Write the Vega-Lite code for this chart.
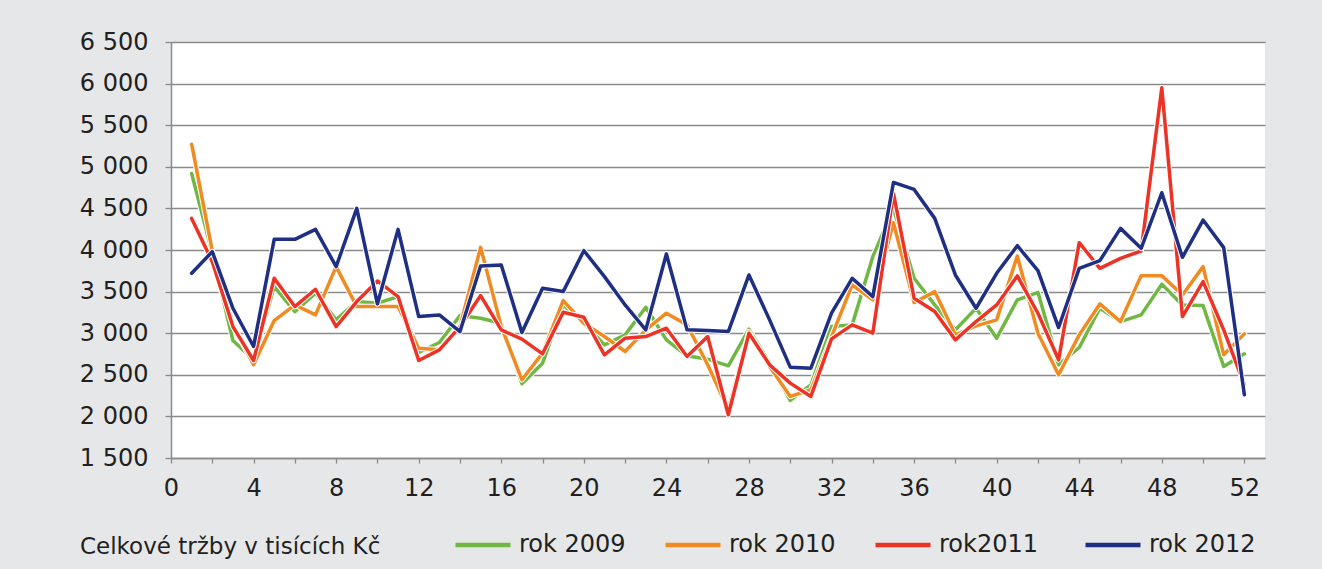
{
"$schema": "https://vega.github.io/schema/vega-lite/v6.json",
"width": 1094,
"height": 416,
"autosize": {"type": "none"},
"padding": {"left": 171, "top": 42, "right": 57, "bottom": 111},
"background": "#e6e7e8",
"view": {"fill": "white", "stroke": null},
"config": {
  "font": "DejaVu Sans",
  "axis": {"labelFont": "DejaVu Sans", "labelFontSize": 24, "labelColor": "#231f20", "domainColor": "#8a8a8a", "domainWidth": 1.5, "tickColor": "#8a8a8a", "tickWidth": 1.3, "gridColor": "#8a8a8a", "gridWidth": 1.3, "title": null},
  "legend": {"labelFont": "DejaVu Sans", "titleFont": "DejaVu Sans"}
},
"datasets": {
"d": [
{"t":1,"s":"rok 2009","v":4920},{"t":2,"s":"rok 2009","v":3960},{"t":3,"s":"rok 2009","v":2912},{"t":4,"s":"rok 2009","v":2680},{"t":5,"s":"rok 2009","v":3560},{"t":6,"s":"rok 2009","v":3260},{"t":7,"s":"rok 2009","v":3480},{"t":8,"s":"rok 2009","v":3160},{"t":9,"s":"rok 2009","v":3380},{"t":10,"s":"rok 2009","v":3360},{"t":11,"s":"rok 2009","v":3440},{"t":12,"s":"rok 2009","v":2768},{"t":13,"s":"rok 2009","v":2888},{"t":14,"s":"rok 2009","v":3212},{"t":15,"s":"rok 2009","v":3180},{"t":16,"s":"rok 2009","v":3120},{"t":17,"s":"rok 2009","v":2392},{"t":18,"s":"rok 2009","v":2640},{"t":19,"s":"rok 2009","v":3340},{"t":20,"s":"rok 2009","v":3120},{"t":21,"s":"rok 2009","v":2860},{"t":22,"s":"rok 2009","v":2980},{"t":23,"s":"rok 2009","v":3312},{"t":24,"s":"rok 2009","v":2920},{"t":25,"s":"rok 2009","v":2728},{"t":26,"s":"rok 2009","v":2688},{"t":27,"s":"rok 2009","v":2608},{"t":28,"s":"rok 2009","v":3048},{"t":29,"s":"rok 2009","v":2640},{"t":30,"s":"rok 2009","v":2192},{"t":31,"s":"rok 2009","v":2380},{"t":32,"s":"rok 2009","v":3080},{"t":33,"s":"rok 2009","v":3100},{"t":34,"s":"rok 2009","v":3920},{"t":35,"s":"rok 2009","v":4500},{"t":36,"s":"rok 2009","v":3660},{"t":37,"s":"rok 2009","v":3340},{"t":38,"s":"rok 2009","v":3040},{"t":39,"s":"rok 2009","v":3300},{"t":40,"s":"rok 2009","v":2940},{"t":41,"s":"rok 2009","v":3400},{"t":42,"s":"rok 2009","v":3492},{"t":43,"s":"rok 2009","v":2620},{"t":44,"s":"rok 2009","v":2828},{"t":45,"s":"rok 2009","v":3300},{"t":46,"s":"rok 2009","v":3140},{"t":47,"s":"rok 2009","v":3220},{"t":48,"s":"rok 2009","v":3588},{"t":49,"s":"rok 2009","v":3340},{"t":50,"s":"rok 2009","v":3332},{"t":51,"s":"rok 2009","v":2600},{"t":52,"s":"rok 2009","v":2752},
{"t":1,"s":"rok 2010","v":5272},{"t":2,"s":"rok 2010","v":3990},{"t":3,"s":"rok 2010","v":3100},{"t":4,"s":"rok 2010","v":2620},{"t":5,"s":"rok 2010","v":3152},{"t":6,"s":"rok 2010","v":3340},{"t":7,"s":"rok 2010","v":3220},{"t":8,"s":"rok 2010","v":3800},{"t":9,"s":"rok 2010","v":3320},{"t":10,"s":"rok 2010","v":3320},{"t":11,"s":"rok 2010","v":3320},{"t":12,"s":"rok 2010","v":2820},{"t":13,"s":"rok 2010","v":2800},{"t":14,"s":"rok 2010","v":3080},{"t":15,"s":"rok 2010","v":4032},{"t":16,"s":"rok 2010","v":3080},{"t":17,"s":"rok 2010","v":2440},{"t":18,"s":"rok 2010","v":2760},{"t":19,"s":"rok 2010","v":3392},{"t":20,"s":"rok 2010","v":3120},{"t":21,"s":"rok 2010","v":2960},{"t":22,"s":"rok 2010","v":2780},{"t":23,"s":"rok 2010","v":3040},{"t":24,"s":"rok 2010","v":3240},{"t":25,"s":"rok 2010","v":3100},{"t":26,"s":"rok 2010","v":2620},{"t":27,"s":"rok 2010","v":2080},{"t":28,"s":"rok 2010","v":3020},{"t":29,"s":"rok 2010","v":2600},{"t":30,"s":"rok 2010","v":2240},{"t":31,"s":"rok 2010","v":2320},{"t":32,"s":"rok 2010","v":2960},{"t":33,"s":"rok 2010","v":3580},{"t":34,"s":"rok 2010","v":3400},{"t":35,"s":"rok 2010","v":4328},{"t":36,"s":"rok 2010","v":3368},{"t":37,"s":"rok 2010","v":3500},{"t":38,"s":"rok 2010","v":2980},{"t":39,"s":"rok 2010","v":3088},{"t":40,"s":"rok 2010","v":3160},{"t":41,"s":"rok 2010","v":3928},{"t":42,"s":"rok 2010","v":3000},{"t":43,"s":"rok 2010","v":2500},{"t":44,"s":"rok 2010","v":2980},{"t":45,"s":"rok 2010","v":3352},{"t":46,"s":"rok 2010","v":3140},{"t":47,"s":"rok 2010","v":3692},{"t":48,"s":"rok 2010","v":3692},{"t":49,"s":"rok 2010","v":3460},{"t":50,"s":"rok 2010","v":3800},{"t":51,"s":"rok 2010","v":2740},{"t":52,"s":"rok 2010","v":2992},
{"t":1,"s":"rok2011","v":4380},{"t":2,"s":"rok2011","v":3860},{"t":3,"s":"rok2011","v":3080},{"t":4,"s":"rok2011","v":2672},{"t":5,"s":"rok2011","v":3660},{"t":6,"s":"rok2011","v":3320},{"t":7,"s":"rok2011","v":3528},{"t":8,"s":"rok2011","v":3080},{"t":9,"s":"rok2011","v":3380},{"t":10,"s":"rok2011","v":3628},{"t":11,"s":"rok2011","v":3440},{"t":12,"s":"rok2011","v":2672},{"t":13,"s":"rok2011","v":2800},{"t":14,"s":"rok2011","v":3080},{"t":15,"s":"rok2011","v":3452},{"t":16,"s":"rok2011","v":3040},{"t":17,"s":"rok2011","v":2928},{"t":18,"s":"rok2011","v":2752},{"t":19,"s":"rok2011","v":3252},{"t":20,"s":"rok2011","v":3192},{"t":21,"s":"rok2011","v":2740},{"t":22,"s":"rok2011","v":2940},{"t":23,"s":"rok2011","v":2960},{"t":24,"s":"rok2011","v":3060},{"t":25,"s":"rok2011","v":2720},{"t":26,"s":"rok2011","v":2960},{"t":27,"s":"rok2011","v":2020},{"t":28,"s":"rok2011","v":3000},{"t":29,"s":"rok2011","v":2620},{"t":30,"s":"rok2011","v":2400},{"t":31,"s":"rok2011","v":2240},{"t":32,"s":"rok2011","v":2932},{"t":33,"s":"rok2011","v":3100},{"t":34,"s":"rok2011","v":3000},{"t":35,"s":"rok2011","v":4680},{"t":36,"s":"rok2011","v":3420},{"t":37,"s":"rok2011","v":3260},{"t":38,"s":"rok2011","v":2920},{"t":39,"s":"rok2011","v":3140},{"t":40,"s":"rok2011","v":3340},{"t":41,"s":"rok2011","v":3688},{"t":42,"s":"rok2011","v":3240},{"t":43,"s":"rok2011","v":2680},{"t":44,"s":"rok2011","v":4088},{"t":45,"s":"rok2011","v":3780},{"t":46,"s":"rok2011","v":3900},{"t":47,"s":"rok2011","v":3988},{"t":48,"s":"rok2011","v":5950},{"t":49,"s":"rok2011","v":3200},{"t":50,"s":"rok2011","v":3620},{"t":51,"s":"rok2011","v":3040},{"t":52,"s":"rok2011","v":2380},
{"t":1,"s":"rok 2012","v":3720},{"t":2,"s":"rok 2012","v":3980},{"t":3,"s":"rok 2012","v":3300},{"t":4,"s":"rok 2012","v":2840},{"t":5,"s":"rok 2012","v":4128},{"t":6,"s":"rok 2012","v":4128},{"t":7,"s":"rok 2012","v":4248},{"t":8,"s":"rok 2012","v":3800},{"t":9,"s":"rok 2012","v":4500},{"t":10,"s":"rok 2012","v":3352},{"t":11,"s":"rok 2012","v":4248},{"t":12,"s":"rok 2012","v":3200},{"t":13,"s":"rok 2012","v":3220},{"t":14,"s":"rok 2012","v":3020},{"t":15,"s":"rok 2012","v":3808},{"t":16,"s":"rok 2012","v":3820},{"t":17,"s":"rok 2012","v":3008},{"t":18,"s":"rok 2012","v":3540},{"t":19,"s":"rok 2012","v":3500},{"t":20,"s":"rok 2012","v":3992},{"t":21,"s":"rok 2012","v":3680},{"t":22,"s":"rok 2012","v":3340},{"t":23,"s":"rok 2012","v":3040},{"t":24,"s":"rok 2012","v":3952},{"t":25,"s":"rok 2012","v":3040},{"t":26,"s":"rok 2012","v":3032},{"t":27,"s":"rok 2012","v":3020},{"t":28,"s":"rok 2012","v":3700},{"t":29,"s":"rok 2012","v":3160},{"t":30,"s":"rok 2012","v":2592},{"t":31,"s":"rok 2012","v":2580},{"t":32,"s":"rok 2012","v":3240},{"t":33,"s":"rok 2012","v":3660},{"t":34,"s":"rok 2012","v":3440},{"t":35,"s":"rok 2012","v":4812},{"t":36,"s":"rok 2012","v":4728},{"t":37,"s":"rok 2012","v":4380},{"t":38,"s":"rok 2012","v":3700},{"t":39,"s":"rok 2012","v":3300},{"t":40,"s":"rok 2012","v":3720},{"t":41,"s":"rok 2012","v":4052},{"t":42,"s":"rok 2012","v":3752},{"t":43,"s":"rok 2012","v":3068},{"t":44,"s":"rok 2012","v":3780},{"t":45,"s":"rok 2012","v":3872},{"t":46,"s":"rok 2012","v":4260},{"t":47,"s":"rok 2012","v":4020},{"t":48,"s":"rok 2012","v":4688},{"t":49,"s":"rok 2012","v":3912},{"t":50,"s":"rok 2012","v":4360},{"t":51,"s":"rok 2012","v":4028},{"t":52,"s":"rok 2012","v":2260}
]
},
"data": {"name": "d"},
"encoding": {
  "x": {"field": "t", "type": "quantitative", "scale": {"domain": [0, 53], "nice": false, "zero": false},
        "axis": {"values": [0,2,4,6,8,10,12,14,16,18,20,22,24,26,28,30,32,34,36,38,40,42,44,46,48,50,52], "labelExpr": "datum.value % 4 === 0 ? datum.label : ''", "grid": false, "tickSize": 5, "labelPadding": 13, "labelFlush": false, "labelOverlap": false}},
  "y": {"field": "v", "type": "quantitative", "scale": {"domain": [1500, 6500], "nice": false, "zero": false},
        "axis": {"values": [1500,2000,2500,3000,3500,4000,4500,5000,5500,6000,6500], "labelExpr": "replace(format(datum.value, ','), ',', ' ')", "grid": true, "tickSize": 6, "labelPadding": 17}}
},
"layer": [
  {"transform": [{"filter": "datum.s === 'rok 2009'"}], "mark": {"type": "line", "color": "white", "strokeWidth": 5.5, "strokeJoin": "round", "strokeCap": "round"}},
  {"transform": [{"filter": "datum.s === 'rok 2009'"}], "mark": {"type": "line", "strokeWidth": 3.5, "strokeJoin": "round", "strokeCap": "round"}, "encoding": {"color": {"field": "s", "type": "nominal", "scale": {"domain": ["rok 2009", "rok 2010", "rok2011", "rok 2012"], "range": ["#6fb843", "#f18a21", "#ec3326", "#1e2f84"]}, "legend": {"title": "Celkové tržby v tisících Kč", "orient": "none", "legendX": -91, "legendY": 473, "direction": "horizontal", "columns": 4, "gridAlign": "all", "columnPadding": 30, "symbolType": "stroke", "symbolSize": 3025, "symbolStrokeWidth": 4.5, "labelFontSize": 24, "labelOffset": 6, "labelColor": "#231f20", "titleOrient": "left", "titleFontSize": 23, "titleFontWeight": "normal", "titleColor": "#231f20", "titlePadding": 72, "titleLimit": 500, "titleBaseline": "top", "titleAnchor": "middle"}}}},
  {"transform": [{"filter": "datum.s === 'rok 2010'"}], "mark": {"type": "line", "color": "white", "strokeWidth": 5.5, "strokeJoin": "round", "strokeCap": "round"}},
  {"transform": [{"filter": "datum.s === 'rok 2010'"}], "mark": {"type": "line", "strokeWidth": 3.5, "strokeJoin": "round", "strokeCap": "round"}, "encoding": {"color": {"field": "s", "type": "nominal"}}},
  {"transform": [{"filter": "datum.s === 'rok2011'"}], "mark": {"type": "line", "color": "white", "strokeWidth": 5.5, "strokeJoin": "round", "strokeCap": "round"}},
  {"transform": [{"filter": "datum.s === 'rok2011'"}], "mark": {"type": "line", "strokeWidth": 3.5, "strokeJoin": "round", "strokeCap": "round"}, "encoding": {"color": {"field": "s", "type": "nominal"}}},
  {"transform": [{"filter": "datum.s === 'rok 2012'"}], "mark": {"type": "line", "color": "white", "strokeWidth": 5.5, "strokeJoin": "round", "strokeCap": "round"}},
  {"transform": [{"filter": "datum.s === 'rok 2012'"}], "mark": {"type": "line", "strokeWidth": 3.5, "strokeJoin": "round", "strokeCap": "round"}, "encoding": {"color": {"field": "s", "type": "nominal"}}}
]
}
